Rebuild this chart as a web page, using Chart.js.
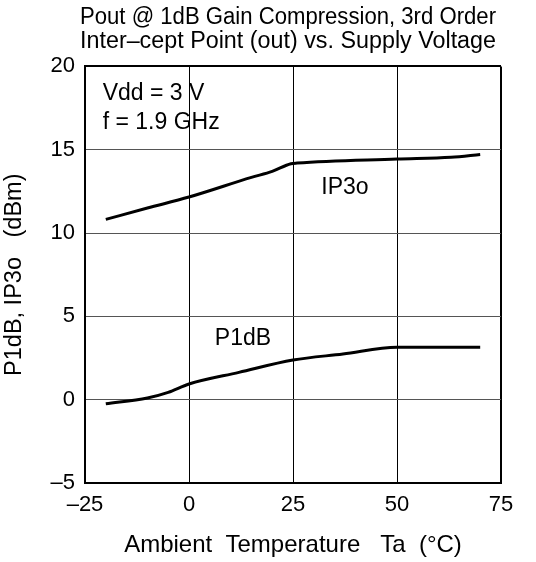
<!DOCTYPE html>
<html>
<head>
<meta charset="utf-8">
<script src="https://cdn.jsdelivr.net/npm/chart.js@4"></script>
<style>
  html, body { margin: 0; padding: 0; background: #fff; }
  #wrap { width: 536px; height: 562px; }
</style>
</head>
<body>
<div id="wrap"><canvas id="chart" width="536" height="562"></canvas></div>
<script>
const temps = [-20, -10, 0, 15, 20, 24.5, 26, 50, 63, 70];
const ip3o = [10.82, 11.5, 12.16, 13.34, 13.7, 14.16, 14.2, 14.44, 14.55, 14.72];
const p1dbTemps = [-20, -10, -5, 0, 12, 25, 37, 50, 60, 70];
const p1db = [-0.25, 0.1, 0.44, 0.94, 1.64, 2.38, 2.74, 3.14, 3.14, 3.14];
const xTicks = [-25, 0, 25, 50, 75];
const yTicks = [-5, 0, 5, 10, 15, 20];
const notes = [
  { text: 'Vdd = 3 V', x: -20.75, y: 17.96 },
  { text: 'f = 1.9 GHz', x: -20.75, y: 16.22 },
  { text: 'IP3o', x: 31.8, y: 12.36 },
  { text: 'P1dB', x: 6.2, y: 3.26 }
];

const FONT = "'Liberation Sans', Arial, sans-serif";
const dash = v => String(v).replace('-', '\u2013');

const notePlugin = {
  id: 'notes',
  afterLayout(chart) {
    // the title sits a little left of the plot centre
    if (chart.titleBlock) { chart.titleBlock.left -= 5; chart.titleBlock.right -= 5; }
  },
  afterDatasetsDraw(chart) {
    const { ctx, scales: { x, y } } = chart;
    ctx.save();
    ctx.font = '23px ' + FONT;
    ctx.fillStyle = '#000';
    ctx.textBaseline = 'alphabetic';
    ctx.textAlign = 'left';
    notes.forEach(n => ctx.fillText(n.text, x.getPixelForValue(n.x), y.getPixelForValue(n.y)));
    ctx.restore();
  }
};

new Chart(document.getElementById('chart'), {
  type: 'line',
  data: {
    datasets: [
      {
        label: 'IP3o',
        data: temps.map((t, i) => ({ x: t, y: ip3o[i] })),
        borderColor: '#000', borderWidth: 3, pointRadius: 0,
        cubicInterpolationMode: 'monotone'
      },
      {
        label: 'P1dB',
        data: p1dbTemps.map((t, i) => ({ x: t, y: p1db[i] })),
        borderColor: '#000', borderWidth: 3, pointRadius: 0,
        cubicInterpolationMode: 'monotone'
      }
    ]
  },
  options: {
    responsive: false,
    animation: false,
    layout: { padding: { left: 0, right: 35, top: 0, bottom: 0 } },
    plugins: {
      legend: { display: false },
      tooltip: { enabled: false },
      title: {
        display: true,
        fullSize: false,
        text: ['Pout @ 1dB Gain Compression, 3rd Order', 'Inter\u2013cept Point (out) vs. Supply Voltage'],
        color: '#000',
        font: { family: FONT, size: 23.5, weight: 'normal', lineHeight: 1.03 },
        padding: { top: 5, bottom: 13 }
      }
    },
    scales: {
      x: {
        type: 'linear', min: -25, max: 75,
        afterBuildTicks: s => { s.ticks = xTicks.map(v => ({ value: v })); },
        afterFit: s => { s.height = 79; },
        ticks: { color: '#000', padding: 9, font: { family: FONT, size: 22 }, callback: v => dash(v), maxRotation: 0 },
        grid: { color: '#000', lineWidth: c => (c.tick && c.tick.value === 75 ? 2 : 1), drawTicks: false },
        border: { color: '#000', width: 2 },
        title: { display: true, text: 'Ambient  Temperature   Ta  (\u00b0C)', color: '#000', font: { family: FONT, size: 24 }, padding: { top: 4, bottom: 2 } }
      },
      y: {
        min: -5, max: 20,
        afterBuildTicks: s => { s.ticks = yTicks.map(v => ({ value: v })); },
        afterFit: s => { s.width = 85; },
        ticks: { color: '#000', padding: 10, font: { family: FONT, size: 22 }, callback: v => dash(v) },
        grid: { color: c => (c.tick && c.tick.value === 20 ? '#000' : '#555'), lineWidth: c => (c.tick && c.tick.value === 20 ? 2 : 1), drawTicks: false },
        border: { color: '#000', width: 2 },
        title: { display: true, text: 'P1dB, IP3o   (dBm)', color: '#000', font: { family: FONT, size: 23.5 }, padding: { top: 0, bottom: 4 } }
      }
    }
  },
  plugins: [notePlugin]
});
</script>
</body>
</html>
